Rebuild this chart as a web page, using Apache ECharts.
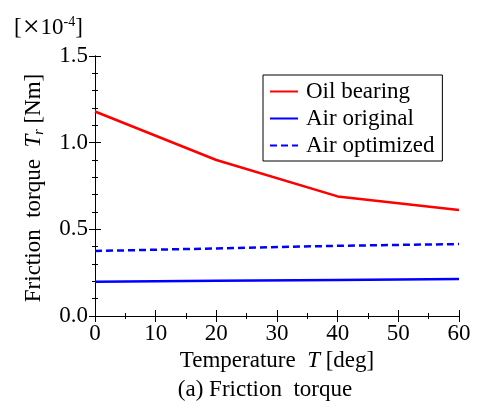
<!DOCTYPE html>
<html>
<head>
<meta charset="utf-8">
<script src="https://cdn.jsdelivr.net/npm/echarts@6/dist/echarts.min.js"></script>
<style>
    html, body { margin: 0; padding: 0; background: #fff; }
    #chart { width: 478px; height: 417px; }
</style>
</head>
<body>
<div id="chart"></div>
<script>
// temperature [deg]
const temps = [0, 20, 40, 60];
// friction torque, x 1e-4 Nm
const oilBearing = [1.18, 0.90, 0.69, 0.612];
const airOriginal = [0.198, 0.203, 0.208, 0.213];
const airOptimized = [0.375, 0.39, 0.405, 0.415];

const serif = '"Liberation Serif", "Times New Roman", serif';
const fs = 23;

function pairs(xs, ys) {
    return xs.map(function (x, i) { return [x, ys[i]]; });
}

const chartDom = document.getElementById('chart');
const myChart = echarts.init(chartDom);

const option = {
    animation: false,
    backgroundColor: '#fff',
    grid: {left: 95, right: 19, top: 56, bottom: 101},
    textStyle: {fontFamily: serif},
    legend: {
        orient: 'vertical',
        left: 263,
        top: 75,
        padding: [5, 8, 4, 6],
        borderColor: '#000',
        borderWidth: 1,
        borderRadius: 0,
        itemWidth: 28,
        itemHeight: 20,
        itemGap: 4,
        itemStyle: {opacity: 0},
        textStyle: {fontFamily: serif, fontSize: fs, lineHeight: 20, color: '#000', padding: [0, 0, 0, 3]},
        data: ['Oil bearing', 'Air original', 'Air optimized']
    },
    xAxis: [
        {
            type: 'value', min: 0, max: 60, interval: 10,
            axisLine: {lineStyle: {color: '#000', width: 1}},
            axisTick: {inside: true, length: 6, lineStyle: {color: '#000'}},
            minorTick: {show: true, splitNumber: 2, length: 3, lineStyle: {color: '#000'}},
            splitLine: {show: false},
            axisLabel: {fontFamily: serif, fontSize: fs, color: '#000', margin: 6},
            name: 'Temperature  {i|T} [deg]',
            nameLocation: 'middle',
            nameGap: 32,
            nameTextStyle: {
                fontFamily: serif, fontSize: fs, color: '#000',
                rich: {i: {fontFamily: serif, fontSize: fs, fontStyle: 'italic', color: '#000'}}
            }
        },
        {
            type: 'value', min: 0, max: 60, interval: 10, position: 'top',
            axisLine: {lineStyle: {color: '#000', width: 1}},
            axisTick: {inside: true, length: 6, lineStyle: {color: '#000'}},
            minorTick: {show: true, splitNumber: 2, length: 3, lineStyle: {color: '#000'}},
            splitLine: {show: false},
            axisLabel: {show: false}
        }
    ],
    yAxis: [
        {
            type: 'value', min: 0, max: 1.5, interval: 0.5,
            axisLine: {show: true, lineStyle: {color: '#000', width: 1}},
            axisTick: {show: true, inside: true, length: 6, lineStyle: {color: '#000'}},
            minorTick: {show: true, splitNumber: 5, length: 3, lineStyle: {color: '#000'}},
            splitLine: {show: false},
            axisLabel: {
                fontFamily: serif, fontSize: fs, color: '#000', margin: 7,
                formatter: function (v) { return v.toFixed(1); }
            }
        },
        {
            type: 'value', min: 0, max: 1.5, interval: 0.5, position: 'right',
            axisLine: {show: true, lineStyle: {color: '#000', width: 1}},
            axisTick: {show: true, inside: true, length: 6, lineStyle: {color: '#000'}},
            minorTick: {show: true, splitNumber: 5, length: 3, lineStyle: {color: '#000'}},
            splitLine: {show: false},
            axisLabel: {show: false}
        }
    ],
    series: [
        {
            name: 'Oil bearing', type: 'line', symbol: 'none',
            data: pairs(temps, oilBearing),
            itemStyle: {color: '#ff0000'},
            lineStyle: {color: '#ff0000', width: 2.5}
        },
        {
            name: 'Air original', type: 'line', symbol: 'none',
            data: pairs(temps, airOriginal),
            itemStyle: {color: '#0000ff'},
            lineStyle: {color: '#0000ff', width: 2.5}
        },
        {
            name: 'Air optimized', type: 'line', symbol: 'none',
            data: pairs(temps, airOptimized),
            itemStyle: {color: '#0000ff'},
            lineStyle: {color: '#0000ff', width: 2.5, type: [7, 4]}
        }
    ],
    graphic: [
        {
            type: 'text', left: 14, top: 13,
            style: {
                text: '[{x|×}10{sup|-4}]',
                fontFamily: serif,
                fontSize: fs,
                fill: '#000',
                rich: {
                    x: {fontFamily: serif, fontSize: 30, fill: '#000', padding: [0, 1, 0, 1]},
                    sup: {fontFamily: serif, fontSize: 14, fill: '#000', padding: [0, 0, 12, 0]}
                }
            }
        },
        {
            type: 'text', x: 34, y: 188, rotation: Math.PI / 2,
            style: {
                text: 'Friction  torque  {i|T}{sub|r} [Nm]',
                fontFamily: serif,
                fontSize: fs,
                fill: '#000',
                align: 'center',
                verticalAlign: 'middle',
                rich: {
                    i: {fontFamily: serif, fontSize: fs, fontStyle: 'italic', fill: '#000'},
                    sub: {fontFamily: serif, fontSize: 14, fontStyle: 'italic', fill: '#000', padding: [10, 0, 0, 0]}
                }
            }
        },
        {
            type: 'text', x: 265, y: 390,
            style: {
                text: '(a) Friction  torque',
                fontFamily: serif,
                fontSize: fs,
                fill: '#000',
                align: 'center',
                verticalAlign: 'middle'
            }
        }
    ]
};

option && myChart.setOption(option);
window.addEventListener('resize', function () {
    if (myChart != null) {
        myChart.resize();
    }
});
</script>
</body>
</html>
